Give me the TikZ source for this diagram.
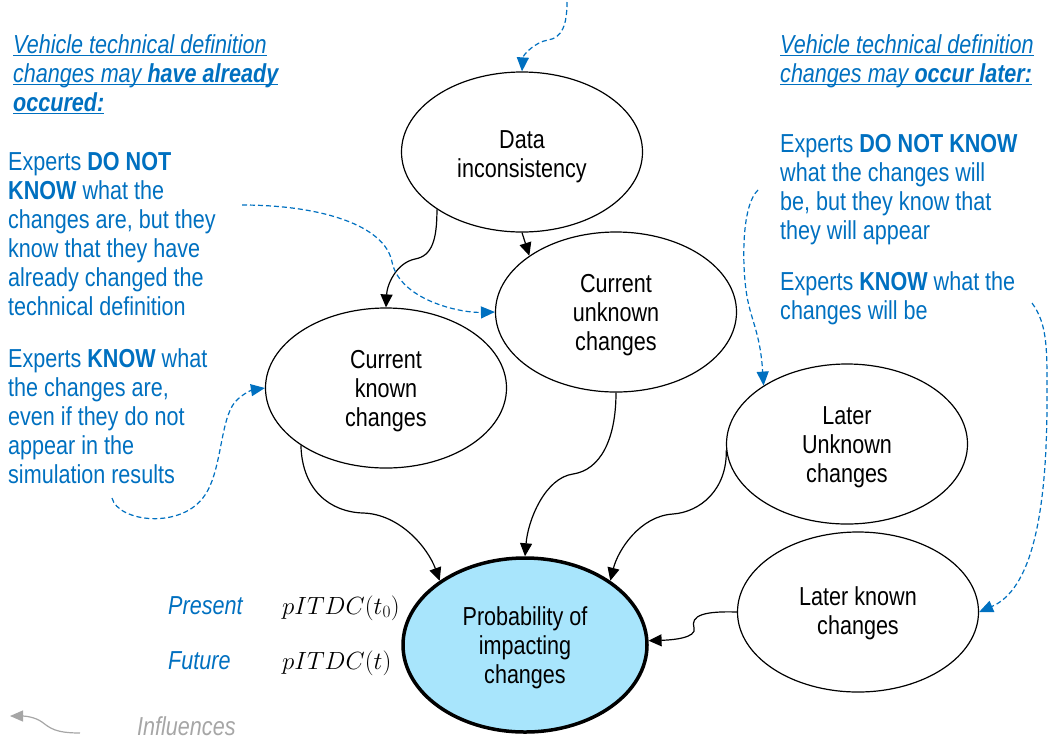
\documentclass[tikz,border=0pt]{standalone}
\usepackage[no-math]{fontspec}
\setmainfont[FakeStretch=0.83]{Liberation Sans}
\usetikzlibrary{shapes.geometric,arrows.meta}
\definecolor{myblue}{HTML}{0070C0}
\definecolor{mygray}{HTML}{A6A6A6}
\definecolor{probfill}{HTML}{A8E5FC}
\newsavebox{\myulbox}
\newcommand{\myul}[1]{\sbox{\myulbox}{#1}\rlap{\rule[-3pt]{\wd\myulbox}{1.4pt}}\usebox{\myulbox}}
\newcommand{\plines}[1]{\begin{tabular}[t]{@{}l@{}}#1\end{tabular}}
\newcommand{\tsz}{\fontsize{26}{29}\selectfont}
\newcommand{\mathsz}{\fontsize{24}{29}\selectfont}
\newcommand{\fl}[1]{\rule{0pt}{#1}}
\begin{document}
\begin{tikzpicture}[x=1pt,y=-1pt,
  every node/.style={font=\tsz},
  ell/.style={draw, ellipse, line width=1.2pt, minimum width=241pt, minimum height=160pt, inner sep=0pt, align=center},
  conn/.style={line width=1.2pt, -{Triangle[length=13pt,width=12pt]}},
  infl/.style={myblue, line width=1.2pt, dash pattern=on 5pt off 3pt, -{Triangle[length=14pt,width=12pt]}},
  btxt/.style={text=myblue, anchor=base west, inner sep=0pt},
  ititle/.style={btxt, font=\tsz\itshape}]
\useasboundingbox (0,0) rectangle (1049,740);

% ellipses
\node[ell] (data) at (522,152) {\fl{26.5pt}Data\\inconsistency};
\node[ell] (cu) at (616,312) {\fl{23.5pt}Current\\unknown\\changes};
\node[ell] (ck) at (386,388) {\fl{23.5pt}Current\\known\\changes};
\node[ell] (lu) at (847,444) {\fl{23.5pt}Later\\Unknown\\changes};
\node[ell] (lk) at (858,612) {\fl{20.5pt}Later known\\changes};
\node[ell, line width=3.5pt, fill=probfill, minimum width=244pt, minimum height=174pt] (prob) at (525,645) {\fl{23.5pt}Probability of\\impacting\\changes};

% texts
\node[ititle] (ltitle) at (13,53) {\plines{\myul{Vehicle technical definition}\\ \myul{changes may \textbf{have already}}\\ \myul{\textbf{occured:}}}};
\node[btxt] (ltxt1) at (8,170) {\plines{Experts \textbf{DO NOT}\\ \textbf{KNOW} what the\\ changes are, but they\\ know that they have\\ already changed the\\ technical definition}};
\node[btxt] (ltxt2) at (8,367) {\plines{Experts \textbf{KNOW} what\\ the changes are,\\ even if they do not\\ appear in the\\ simulation results}};
\node[ititle] (rtitle) at (780,53) {\plines{\myul{Vehicle technical definition}\\ \myul{changes may \textbf{occur later:}}}};
\node[btxt] (rtxt1) at (780,152) {\plines{Experts \textbf{DO NOT KNOW}\\ what the changes will\\ be, but they know that\\ they will appear}};
\node[btxt] (rtxt2) at (780,290) {\plines{Experts \textbf{KNOW} what the\\ changes will be}};
\node[ititle] (present) at (168,614) {Present};
\node[ititle] (future) at (168,669) {Future};
\node[anchor=base west, inner sep=0pt, font=\mathsz] (m0) at (282,614) {$pITDC(t_0)$};
\node[anchor=base west, inner sep=0pt, font=\mathsz] (m1) at (282,669) {$pITDC(t)$};
\node[anchor=base west, inner sep=0pt, text=mygray, font=\tsz\itshape] (infl) at (137,735) {Influences};

% free ends
\coordinate (topsrc) at (567,2);
\coordinate (t1src) at (242,205);
\coordinate (t2src) at (112,498);
\coordinate (r1src) at (758,190);
\coordinate (r2src) at (1032,303);
\coordinate (infA) at (80,733);
\coordinate (infB) at (10,716);

% black connectors
\draw[conn] (data.214) .. controls (437,240) and (432,256) .. (415,259) .. controls (396,263) and (387,285) .. (ck.north);
\draw[conn] (data.south) -- (cu.147);
\draw[conn] (ck.214) .. controls (302,490) and (330,512) .. (363,513) .. controls (400,514) and (428,548) .. (prob.143);
\draw[conn] (cu.south) .. controls (616,440) and (600,470) .. (573,474) .. controls (545,478) and (528,520) .. (prob.north);
\draw[conn] (lu.183) .. controls (727,490) and (700,512) .. (673,514) .. controls (640,516) and (618,550) .. (prob.37);
\draw[conn] (lk.west) .. controls (705,611) and (690,615) .. (694,628) .. controls (697,638) and (672,640) .. (prob.2);

% blue dashed
\draw[infl] (topsrc) .. controls (567,25) and (562,38) .. (548,40) .. controls (535,42) and (523,55) .. (data.north);
\draw[infl] (t1src) .. controls (320,205) and (385,225) .. (392,262) .. controls (400,300) and (460,313) .. (cu.west);
\draw[infl] (t2src) .. controls (118,522) and (182,530) .. (205,495) .. controls (222,470) and (220,420) .. (235,402) .. controls (242,394) and (252,390) .. (ck.west);
\draw[infl] (r1src) .. controls (742,205) and (742,260) .. (746,290) .. controls (750,320) and (760,330) .. (lu.145);
\draw[infl] (r2src) .. controls (1048,325) and (1047,350) .. (1047,400) .. controls (1047,520) and (1030,590) .. (lk.east);

% legend arrow
\draw[mygray, line width=1.2pt, -{Triangle[length=13pt,width=11pt]}] (infA) .. controls (55,733) and (50,728) .. (42,722) .. controls (35,717) and (25,716) .. (infB);
\end{tikzpicture}
\end{document}
